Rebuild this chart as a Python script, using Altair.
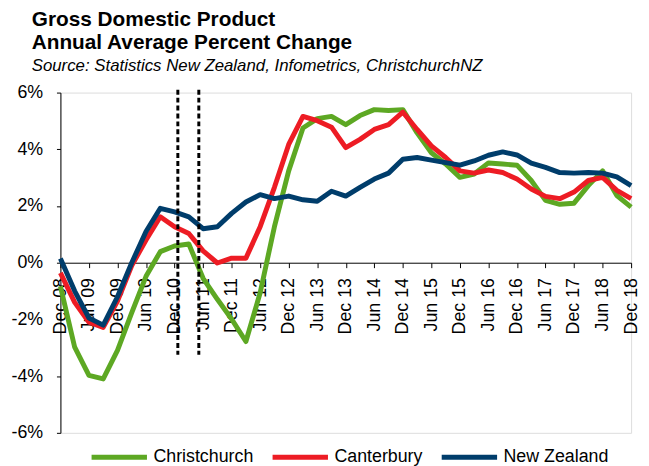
import altair as alt
import pandas as pd

quarters = ["Dec 08", "Mar 09", "Jun 09", "Sep 09", "Dec 09", "Mar 10", "Jun 10", "Sep 10",
            "Dec 10", "Mar 11", "Jun 11", "Sep 11", "Dec 11", "Mar 12", "Jun 12", "Sep 12",
            "Dec 12", "Mar 13", "Jun 13", "Sep 13", "Dec 13", "Mar 14", "Jun 14", "Sep 14",
            "Dec 14", "Mar 15", "Jun 15", "Sep 15", "Dec 15", "Mar 16", "Jun 16", "Sep 16",
            "Dec 16", "Mar 17", "Jun 17", "Sep 17", "Dec 17", "Mar 18", "Jun 18", "Sep 18",
            "Dec 18"]

christchurch = [-0.83, -2.98, -3.97, -4.10, -3.09, -1.76, -0.48, 0.39, 0.59, 0.66, -0.55,
                -1.29, -1.99, -2.78, -1.06, 1.27, 3.24, 4.75, 5.08, 5.16, 4.87, 5.19, 5.40,
                5.37, 5.40, 4.58, 3.88, 3.48, 3.01, 3.13, 3.52, 3.48, 3.44, 2.90, 2.20, 2.06,
                2.10, 2.72, 3.24, 2.37, 1.96]
canterbury = [-0.36, -1.40, -2.10, -2.28, -1.35, -0.10, 0.80, 1.62, 1.27, 1.03, 0.42,
              -0.01, 0.16, 0.16, 1.27, 2.66, 4.17, 5.16, 5.01, 4.78, 4.06, 4.35, 4.70,
              4.87, 5.31, 4.70, 4.12, 3.71, 3.24, 3.16, 3.27, 3.18, 2.95, 2.60, 2.34, 2.26,
              2.49, 2.90, 3.01, 2.55, 2.26]
new_zealand = [0.15, -1.00, -1.95, -2.20, -1.20, 0.00, 1.10, 1.92, 1.79, 1.62, 1.20,
               1.27, 1.74, 2.14, 2.40, 2.26, 2.35, 2.22, 2.17, 2.52, 2.35, 2.66, 2.95,
               3.16, 3.65, 3.71, 3.62, 3.53, 3.44, 3.59, 3.79, 3.91, 3.80, 3.51, 3.36, 3.18,
               3.16, 3.18, 3.16, 3.03, 2.72]

series_names = ["Christchurch", "Canterbury", "New Zealand"]
series_colors = ["#5DA823", "#ED1C24", "#003D6B"]

# earthquake markers (position on quarterly index) and their vertical extent (%)
event_positions = [8.23, 9.7]
event_top = 6.1
event_bottom = -3.25

rows = []
for name, vals in zip(series_names, [christchurch, canterbury, new_zealand]):
    for i, v in enumerate(vals):
        rows.append({"idx": i, "quarter": quarters[i], "series": name, "value": v})
df = pd.DataFrame(rows)
ev = pd.DataFrame({"pos": event_positions, "top": event_top, "bottom": event_bottom})

FONT = "Liberation Sans"
label_js = "[" + ",".join("'%s'" % q for q in quarters) + "][datum.value]"

x_scale = alt.Scale(domain=[0, len(quarters) - 1], nice=False, zero=False)
y_scale = alt.Scale(domain=[-6, 6], nice=False)

x_axis = alt.Axis(title=None, values=list(range(0, 41, 2)), labelExpr=label_js,
                  offset=-172, labelAngle=270, labelAlign="right",
                  labelBaseline="middle", labelPadding=10, tickSize=5,
                  labelFontSize=18, labelFont=FONT, labelColor="black",
                  domainColor="black", tickColor="black", grid=False,
                  labelOverlap=False, labelFlush=False, labelBound=False)
y_axis = alt.Axis(title=None, values=[-6, -4, -2, 0, 2, 4, 6],
                  labelExpr="datum.value + '%'", tickSize=4, labelPadding=14,
                  labelFontSize=18, labelFont=FONT, labelColor="black",
                  domainColor="black", tickColor="black", grid=False)

lines = alt.Chart(df).mark_line(strokeWidth=5, strokeJoin="round").encode(
    x=alt.X("idx:Q", scale=x_scale, axis=x_axis),
    y=alt.Y("value:Q", scale=y_scale, axis=y_axis),
    color=alt.Color("series:N",
                    scale=alt.Scale(domain=series_names, range=series_colors),
                    legend=alt.Legend(title=None, orient="none", direction="horizontal",
                                      legendX=29, legendY=338, symbolType="stroke",
                                      symbolSize=3136, symbolStrokeWidth=5,
                                      labelFontSize=18, labelFont=FONT, labelColor="black",
                                      labelOffset=4, columnPadding=8, padding=0,
                                      gridAlign="each")),
    order=alt.Order("series:N"),
)

rules = alt.Chart(ev).mark_rule(color="black", strokeWidth=3, strokeDash=[5, 3]).encode(
    x=alt.X("pos:Q", scale=x_scale, axis=x_axis),
    y=alt.Y("top:Q", scale=y_scale, axis=y_axis),
    y2="bottom:Q",
)

chart = alt.layer(lines, rules).properties(
    width=577,
    height=344,
    autosize=alt.AutoSizeParams(type="none"),
    padding={"left": 53, "top": 83, "right": 10, "bottom": 31},
    title=alt.TitleParams(
        text=["Gross Domestic Product", "Annual Average Percent Change"],
        subtitle="Source: Statistics New Zealand, Infometrics, ChristchurchNZ",
        anchor="start", frame="group", dx=-29, offset=10,
        font=FONT, fontSize=21, fontWeight="bold", lineHeight=23, color="black",
        subtitleFont=FONT, subtitleFontSize=17, subtitleFontStyle="italic",
        subtitleColor="black", subtitlePadding=5,
    ),
).configure_view(strokeOpacity=0).configure(background="white")

chart.save("out.html", embed_options={"renderer": "svg", "actions": False})
